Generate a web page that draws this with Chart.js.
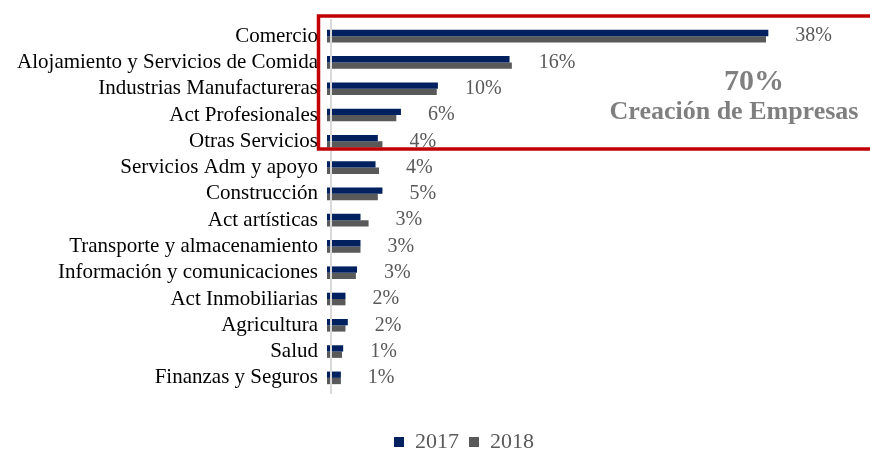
<!DOCTYPE html>
<html lang="es">
<head>
    <meta charset="UTF-8">
    <title>Creación de Empresas por Sector</title>
    <script src="https://cdn.jsdelivr.net/npm/chart.js"></script>
    <style>
        html, body { margin: 0; padding: 0; background: #fff; }
        .wrap { width: 870px; height: 451px; position: relative; }
    </style>
</head>
<body>
    <div class="wrap">
        <canvas id="sectorChart"></canvas>
    </div>

    <script>
        const sectors = [
            "Comercio",
            "Alojamiento y Servicios de Comida",
            "Industrias Manufactureras",
            "Act Profesionales",
            "Otras Servicios",
            "Servicios Adm y apoyo",
            "Construcción",
            "Act artísticas",
            "Transporte y almacenamiento",
            "Información y comunicaciones",
            "Act Inmobiliarias",
            "Agricultura",
            "Salud",
            "Finanzas y Seguros"
        ];
        const share2017 = [38.2, 15.8, 9.6, 6.4, 4.4, 4.2, 4.8, 2.9, 2.9, 2.6, 1.6, 1.8, 1.4, 1.2];
        const share2018 = [38.0, 16.0, 9.5, 6.0, 4.8, 4.5, 4.4, 3.6, 2.9, 2.5, 1.6, 1.6, 1.3, 1.2];
        const topShare = "70%";
        const topCaption = "Creación de Empresas";

        const serif = "'Liberation Serif', 'Times New Roman', serif";

        // legend sits a bit right of the canvas centre
        const legendShift = {
            id: "legendShift",
            afterLayout(chart) {
                chart.legend.left += 29;
                chart.legend.right += 29;
            }
        };

        // value labels after each pair of bars + the highlight box
        const overlay = {
            id: "overlay",
            afterDatasetsDraw(chart) {
                const ctx = chart.ctx;
                const area = chart.chartArea;
                const m17 = chart.getDatasetMeta(0);
                const m18 = chart.getDatasetMeta(1);

                // thin gray axis line over the bar bases
                ctx.save();
                ctx.strokeStyle = "#d9d9d9";
                ctx.lineWidth = 2;
                ctx.beginPath();
                ctx.moveTo(area.left + 4, area.top - 4);
                ctx.lineTo(area.left + 4, area.bottom + 3);
                ctx.stroke();

                ctx.fillStyle = "#595959";
                ctx.font = "20px " + serif;
                ctx.textAlign = "left";
                ctx.textBaseline = "middle";
                share2017.forEach((v, i) => {
                    const b1 = m17.data[i], b2 = m18.data[i];
                    const end = Math.max(b1.x, b2.x);
                    const y = (b1.y + b2.y) / 2;
                    ctx.fillText(Math.round(v) + "%", end + 27, y);
                });

                // red box round the top five sectors
                ctx.strokeStyle = "#c00000";
                ctx.lineWidth = 3.5;
                ctx.strokeRect(318.5, 16, 560, 133);

                ctx.fillStyle = "#7f7f7f";
                ctx.textAlign = "center";
                ctx.font = "bold 30px " + serif;
                ctx.fillText(topShare, 754, 82);
                ctx.font = "bold 26px " + serif;
                ctx.fillText(topCaption, 734, 112);
                ctx.restore();
            }
        };

        new Chart(document.getElementById("sectorChart"), {
            type: "bar",
            data: {
                labels: sectors,
                datasets: [
                    { label: "2017", data: share2017, backgroundColor: "#002060" },
                    { label: "2018", data: share2018, backgroundColor: "#595959" }
                ]
            },
            options: {
                indexAxis: "y",
                responsive: true,
                maintainAspectRatio: false,
                animation: false,
                datasets: { bar: { categoryPercentage: 0.48, barPercentage: 1.0 } },
                layout: { padding: { top: 23, left: 0, right: 0, bottom: -12 } },
                scales: {
                    x: {
                        min: 0,
                        max: 47,
                        grid: { display: false },
                        border: { display: false },
                        ticks: { display: false },
                        afterFit: (scale) => { scale.height = 30; }
                    },
                    y: {
                        grid: { display: false, drawTicks: false },
                        border: { display: false },
                        ticks: {
                            padding: 9,
                            color: "#000",
                            autoSkip: false,
                            font: { family: serif, size: 21 }
                        },
                        afterFit: (scale) => { scale.width = 327; }
                    }
                },
                plugins: {
                    legend: {
                        position: "bottom",
                        labels: {
                            boxWidth: 10,
                            boxHeight: 10,
                            padding: 10,
                            color: "#595959",
                            font: { family: serif, size: 22 }
                        }
                    },
                    tooltip: { enabled: false }
                }
            },
            plugins: [legendShift, overlay]
        });
    </script>
</body>
</html>
